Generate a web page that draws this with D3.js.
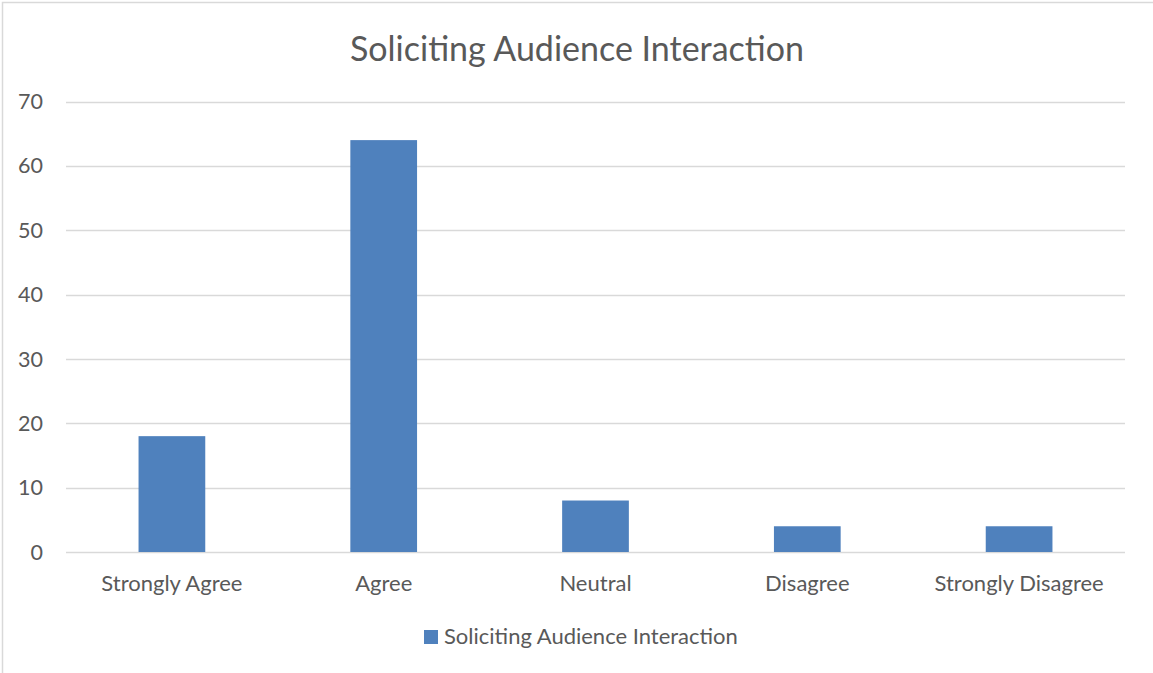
<!DOCTYPE html>
<html>
<head>
<meta charset="utf-8">
<script src="https://cdn.jsdelivr.net/npm/d3@7"></script>
<style>
  html, body { margin: 0; padding: 0; background: #fff; }
  svg { display: block; }
  text { font-family: Lato, "Open Sans", sans-serif; fill: #595959; }
</style>
</head>
<body>
<svg id="chart" width="1153" height="673"></svg>
<script>
const categories = ["Strongly Agree", "Agree", "Neutral", "Disagree", "Strongly Disagree"];
const values = [18, 64, 8, 4, 4];
const yTicks = [0, 10, 20, 30, 40, 50, 60, 70];
const chartTitle = "Soliciting Audience Interaction";
const seriesName = "Soliciting Audience Interaction";

const W = 1153, H = 673;
const plot = { left: 66, right: 1125, top: 101.5, bottom: 552 };
const barColor = "#4F81BD";
const font = "Lato, 'Open Sans', sans-serif";

const svg = d3.select("#chart");

// chart area border (top and left edges visible)
svg.append("path")
  .attr("d", `M2.5,${H} L2.5,2.5 L${W},2.5`)
  .attr("fill", "none")
  .attr("stroke", "#D9D9D9")
  .attr("stroke-width", 1.5);

const x = d3.scaleBand()
  .domain(categories)
  .range([plot.left, plot.right])
  .paddingInner(0.685)
  .paddingOuter(0.3425);

const y = d3.scaleLinear()
  .domain([0, 70])
  .range([plot.bottom, plot.top]);

// horizontal gridlines
svg.append("g")
  .selectAll("line")
  .data(yTicks)
  .join("line")
  .attr("x1", plot.left)
  .attr("x2", plot.right)
  .attr("y1", d => Math.round(y(d)) + 0.5)
  .attr("y2", d => Math.round(y(d)) + 0.5)
  .attr("stroke", "#D9D9D9")
  .attr("stroke-width", 1.3);

// y axis labels
const yAxis = d3.axisLeft(y).tickValues(yTicks).tickSize(0).tickPadding(0);
const yG = svg.append("g")
  .attr("transform", `translate(43,0)`)
  .call(yAxis);
yG.select(".domain").remove();
yG.selectAll("text")
  .attr("font-size", 21.5)
  .attr("dy", "0.33em")
  .style("font-family", font)
  .attr("fill", "#595959");

// bars
svg.append("g")
  .selectAll("rect")
  .data(values)
  .join("rect")
  .attr("x", (d, i) => x(categories[i]))
  .attr("width", x.bandwidth())
  .attr("y", d => y(d))
  .attr("height", d => y(0) - y(d))
  .attr("fill", barColor);

// category labels
const xAxis = d3.axisBottom(x).tickSize(0).tickPadding(0);
const xG = svg.append("g")
  .attr("transform", `translate(0,${plot.bottom})`)
  .call(xAxis);
xG.select(".domain").remove();
xG.selectAll("text")
  .attr("y", 39)
  .attr("dy", 0)
  .attr("font-size", 22)
  .style("font-family", font)
  .attr("fill", "#595959");

// title
svg.append("text")
  .attr("x", 577)
  .attr("y", 61)
  .attr("text-anchor", "middle")
  .attr("font-size", 34)
  .text(chartTitle);

// legend
const legend = svg.append("g");
legend.append("rect")
  .attr("x", 424).attr("y", 630)
  .attr("width", 14).attr("height", 14)
  .attr("fill", barColor);
legend.append("text")
  .attr("x", 444).attr("y", 644)
  .attr("font-size", 22)
  .text(seriesName);
</script>
</body>
</html>
